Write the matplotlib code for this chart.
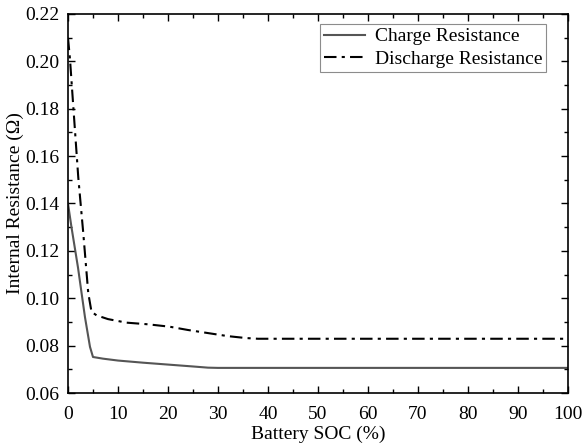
import matplotlib
matplotlib.use("Agg")
import matplotlib.pyplot as plt
from matplotlib.ticker import MultipleLocator, FormatStrFormatter

plt.rcParams['font.family'] = ['Liberation Serif', 'DejaVu Serif']
plt.rcParams['mathtext.fontset'] = 'stix'

charge_soc = [0, 0.7, 2.0, 3.4, 4.4, 5, 7, 10, 15, 20, 25, 28, 30, 40, 50, 60, 70, 80, 90, 100]
charge_r = [0.140, 0.130, 0.113, 0.092, 0.0795, 0.0752, 0.0745, 0.0737, 0.0728, 0.0720, 0.0712, 0.0707, 0.0706, 0.0706, 0.0706, 0.0706, 0.0706, 0.0706, 0.0706, 0.0706]

dis_soc = [0, 0.4, 1.06, 2.06, 3.05, 4.05, 4.7, 5.7, 8, 11.7, 16, 20.3, 24, 28.3, 32, 35.6, 38, 40, 50, 60, 70, 80, 90, 100]
dis_r = [0.210, 0.201, 0.181, 0.151, 0.1277, 0.1023, 0.0943, 0.0928, 0.0912, 0.0897, 0.0890, 0.0880, 0.0866, 0.0852, 0.0840, 0.0832, 0.0829, 0.0829, 0.0829, 0.0829, 0.0829, 0.0829, 0.0829, 0.0829]

fig = plt.figure(figsize=(5.82, 4.47), dpi=100)
ax = fig.add_axes([0.1168, 0.1208, 0.8591, 0.8479])

ax.plot(charge_soc, charge_r, color='#555555', lw=1.5, label='Charge Resistance')
ax.plot(dis_soc, dis_r, color='black', lw=1.5, dashes=(6, 2.5, 1.5, 2.5), label='Discharge Resistance')

ax.set_xlim(0, 100)
ax.set_ylim(0.06, 0.22)
ax.xaxis.set_major_locator(MultipleLocator(10))
ax.xaxis.set_minor_locator(MultipleLocator(5))
ax.yaxis.set_major_locator(MultipleLocator(0.02))
ax.yaxis.set_minor_locator(MultipleLocator(0.01))
ax.yaxis.set_major_formatter(FormatStrFormatter('%.2f'))
ax.tick_params(which='both', direction='in', top=True, right=True, labelsize=14)
ax.tick_params(axis='x', which='major', pad=9)
ax.tick_params(axis='y', which='major', pad=6)
ax.tick_params(which='major', length=5, width=1)
ax.tick_params(which='minor', length=3, width=1)
for s in ax.spines.values():
    s.set_linewidth(1.2)

ax.set_xlabel('Battery SOC (%)', fontsize=14, labelpad=2)
ax.set_ylabel('Internal Resistance (Ω)', fontsize=14, labelpad=1)

leg = ax.legend(loc='upper right', bbox_to_anchor=(0.956, 0.974), fontsize=14,
                fancybox=False, edgecolor='#8c8c8c', framealpha=1, handlelength=2.1,
                borderpad=0.2, labelspacing=0.25, handletextpad=0.5, borderaxespad=0)
leg.get_frame().set_linewidth(0.8)

fig.savefig('out.png', dpi=100)
